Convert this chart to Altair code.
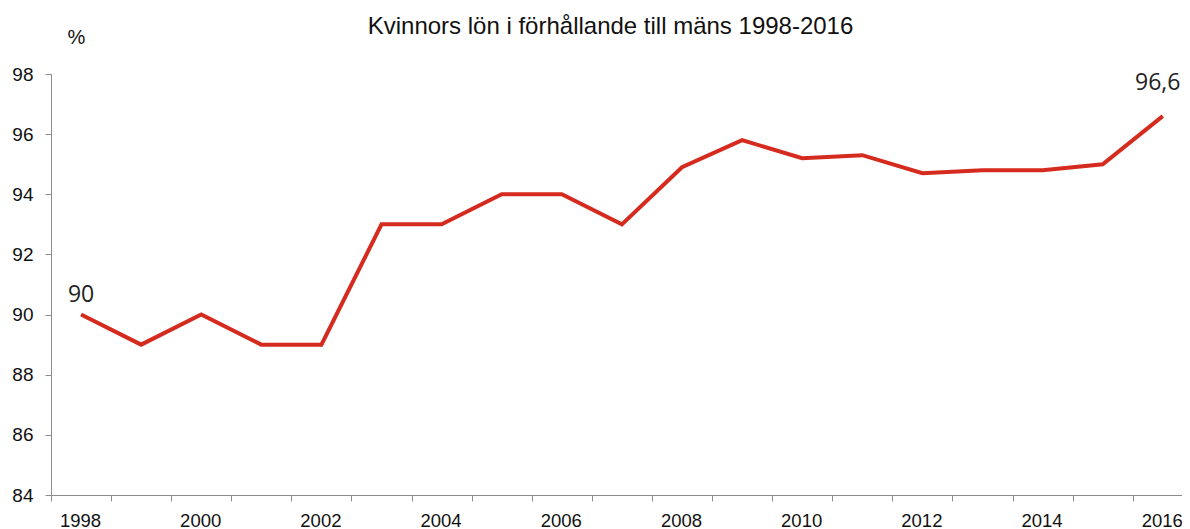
import altair as alt
import pandas as pd

years = list(range(1998, 2017))
values = [90, 89, 90, 89, 89, 93, 93, 94, 94, 93, 94.9, 95.8, 95.2, 95.3, 94.7, 94.8, 94.8, 95.0, 96.6]
first_label = ["90"]
last_label = ["96,6"]
y_ticks = [84, 86, 88, 90, 92, 94, 96, 98]
x_boundaries = [y - 0.5 for y in years]

df = pd.DataFrame({"year": years, "value": values})
df_first = pd.DataFrame({"year": [years[0]], "value": [values[0]], "label": first_label})
df_last = pd.DataFrame({"year": [years[-1]], "value": [values[-1]], "label": last_label})

FONT = "Liberation Sans"
AX = "#8c8c8c"

xscale = alt.Scale(domain=[1997.5, 2016.32], nice=False, zero=False)
yscale = alt.Scale(domain=[84, 98], nice=False, zero=False)

x_axis = alt.Axis(
    values=x_boundaries,
    labelExpr="(datum.value - 1997.5) % 2 == 0 ? format(datum.value + 0.5, 'd') : ''",
    labelOffset=29,
    labelFlush=False,
    labelOverlap=False,
    labelFont=FONT,
    labelFontSize=18.5,
    labelColor="#111",
    labelPadding=10,
    tickSize=6,
    tickColor=AX,
    domainColor=AX,
    grid=False,
    title=None,
)
y_axis = alt.Axis(
    values=y_ticks,
    labelFont=FONT,
    labelFontSize=19,
    labelColor="#111",
    labelPadding=12,
    tickSize=6,
    tickColor=AX,
    domainColor=AX,
    grid=False,
    title="%",
    titleAngle=0,
    titleX=25,
    titleY=-31,
    titleAlign="center",
    titleBaseline="alphabetic",
    titleFont=FONT,
    titleFontSize=20,
    titleFontWeight="normal",
    titleColor="#111",
)

line = alt.Chart(df).mark_line(color="#D52B1E", strokeWidth=4, clip=True).encode(
    x=alt.X("year:Q", scale=xscale, axis=x_axis),
    y=alt.Y("value:Q", scale=yscale, axis=y_axis),
)

ann_first = alt.Chart(df_first).mark_text(
    font="Open Sans", fontSize=23, color="#222", dy=-13, baseline="alphabetic", align="center"
).encode(x=alt.X("year:Q", scale=xscale), y=alt.Y("value:Q", scale=yscale), text="label:N")

ann_last = alt.Chart(df_last).mark_text(
    font="Open Sans", fontSize=23, color="#222", dy=-26, dx=-5, baseline="alphabetic", align="center"
).encode(x=alt.X("year:Q", scale=xscale), y=alt.Y("value:Q", scale=yscale), text="label:N")

chart = alt.layer(line, ann_first, ann_last).properties(
    width=1131,
    height=421,
    autosize=alt.AutoSizeParams(type="none"),
    padding={"left": 43, "top": 66, "right": 0, "bottom": 40},
    title=alt.TitleParams(
        text="Kvinnors lön i förhållande till mäns 1998-2016",
        font=FONT,
        fontSize=24,
        fontWeight="normal",
        color="#111",
        anchor="middle",
        frame="group",
        baseline="alphabetic",
        offset=-31,
        dx=-6,
    ),
).configure_view(stroke=None)

chart.save("out.html", embed_options={"renderer": "svg", "actions": False})
